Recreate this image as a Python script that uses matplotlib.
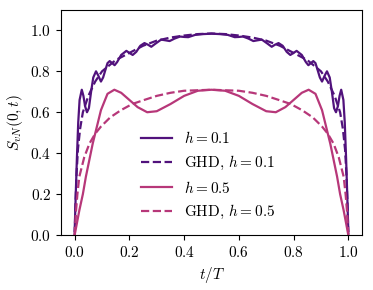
import numpy as np
import matplotlib.pyplot as plt
from matplotlib import cm

plt.rcParams['font.family'] = 'serif'
plt.rcParams['font.serif'] = ['cmr10', 'DejaVu Serif']
plt.rcParams['mathtext.fontset'] = 'cm'
plt.rcParams['axes.formatter.use_mathtext'] = True
plt.rcParams['font.size'] = 11

# ============================
# data
# ============================
t_h01 = [0.0, 0.004, 0.008, 0.013, 0.018, 0.026, 0.032, 0.038, 0.045, 0.052,
         0.06, 0.068, 0.078, 0.086, 0.096, 0.104, 0.113, 0.12, 0.128, 0.137,
         0.146, 0.155, 0.17, 0.189, 0.2, 0.212, 0.225, 0.24, 0.255, 0.268,
         0.28, 0.295, 0.316, 0.33, 0.347, 0.365, 0.385, 0.4, 0.415, 0.44,
         0.47, 0.5,
         0.53, 0.56, 0.585, 0.6, 0.615, 0.635, 0.653, 0.67, 0.684, 0.705,
         0.72, 0.732, 0.745, 0.76, 0.775, 0.788, 0.8, 0.811, 0.83, 0.845,
         0.854, 0.863, 0.872, 0.88, 0.887, 0.896, 0.904, 0.914, 0.922, 0.932,
         0.94, 0.948, 0.955, 0.962, 0.968, 0.974, 0.982, 0.987, 0.992, 0.996,
         1.0]
s_h01 = [0.02, 0.2, 0.37, 0.55, 0.66, 0.71, 0.68, 0.63, 0.60, 0.62,
         0.70, 0.77, 0.80, 0.78, 0.75, 0.77, 0.81, 0.84, 0.85, 0.84,
         0.83, 0.845, 0.88, 0.90, 0.89, 0.88, 0.895, 0.925, 0.938, 0.93,
         0.92, 0.935, 0.955, 0.952, 0.948, 0.96, 0.97, 0.968, 0.967, 0.978,
         0.982, 0.984,
         0.982, 0.978, 0.967, 0.968, 0.97, 0.96, 0.948, 0.952, 0.955, 0.935,
         0.92, 0.93, 0.938, 0.925, 0.895, 0.88, 0.89, 0.90, 0.88, 0.845,
         0.83, 0.84, 0.85, 0.84, 0.81, 0.77, 0.75, 0.78, 0.80, 0.77,
         0.70, 0.62, 0.60, 0.63, 0.68, 0.71, 0.66, 0.55, 0.37, 0.2,
         0.02]

t_ghd01 = [0.0, 0.003, 0.007, 0.012, 0.02, 0.03, 0.05, 0.075, 0.1, 0.15,
           0.2, 0.25, 0.3, 0.35, 0.4, 0.45, 0.5, 0.55, 0.6, 0.65,
           0.7, 0.75, 0.8, 0.85, 0.9, 0.925, 0.95, 0.97, 0.98, 0.988,
           0.993, 0.997, 1.0]
s_ghd01 = [0.0, 0.15, 0.3, 0.42, 0.52, 0.6, 0.68, 0.75, 0.80, 0.855,
           0.89, 0.925, 0.95, 0.965, 0.975, 0.982, 0.985, 0.982, 0.975, 0.965,
           0.95, 0.925, 0.89, 0.855, 0.80, 0.75, 0.68, 0.6, 0.52, 0.42,
           0.3, 0.15, 0.0]

t_h05 = [0.0, 0.017, 0.03, 0.041, 0.066, 0.096, 0.12, 0.145, 0.17, 0.2,
         0.23, 0.265, 0.3, 0.35, 0.4, 0.45, 0.5, 0.55, 0.6, 0.65,
         0.7, 0.735, 0.77, 0.8, 0.83, 0.855, 0.88, 0.904, 0.934, 0.959,
         0.97, 0.983, 1.0]
s_h05 = [0.0, 0.12, 0.2, 0.285, 0.447, 0.61, 0.69, 0.71, 0.695, 0.66,
         0.625, 0.60, 0.605, 0.64, 0.68, 0.705, 0.71, 0.705, 0.68, 0.64,
         0.605, 0.60, 0.625, 0.66, 0.695, 0.71, 0.69, 0.61, 0.447, 0.285,
         0.2, 0.12, 0.0]

t_ghd05 = [0.0, 0.005, 0.01, 0.017, 0.035, 0.054, 0.075, 0.096, 0.13, 0.169,
           0.21, 0.254, 0.3, 0.35, 0.4, 0.5, 0.6, 0.65, 0.7, 0.746,
           0.79, 0.831, 0.87, 0.904, 0.925, 0.946, 0.965, 0.983, 0.99, 0.995,
           1.0]
s_ghd05 = [0.0, 0.12, 0.2, 0.285, 0.38, 0.447, 0.495, 0.53, 0.575, 0.61,
           0.64, 0.66, 0.68, 0.695, 0.705, 0.71, 0.705, 0.695, 0.68, 0.66,
           0.64, 0.61, 0.575, 0.53, 0.495, 0.447, 0.38, 0.285, 0.2, 0.12,
           0.0]

# ============================
# plot
# ============================
c1 = cm.magma(0.25)
c2 = cm.magma(0.5)

fig = plt.figure(figsize=(3.73, 2.9), dpi=100)
ax = fig.add_axes([0.1635, 0.1897, 0.807, 0.776])

ax.plot(t_h01, s_h01, '-', color=c1, lw=1.6, label=r'$h=0.1$')
ax.plot(t_ghd01, s_ghd01, '--', color=c1, lw=1.6, label=r'GHD, $h=0.1$')
ax.plot(t_h05, s_h05, '-', color=c2, lw=1.6, label=r'$h=0.5$')
ax.plot(t_ghd05, s_ghd05, '--', color=c2, lw=1.6, label=r'GHD, $h=0.5$')

ax.set_xlim(-0.05, 1.05)
ax.set_ylim(0.0, 1.1)
ax.set_xticks(np.arange(0, 1.01, 0.2))
ax.set_yticks(np.arange(0, 1.01, 0.2))
ax.set_xlabel(r'$t/T$')
ax.set_ylabel(r'$S_{vN}(0,t)$')

ax.legend(frameon=False, loc='lower center', bbox_to_anchor=(0.49, 0.0),
          handlelength=2.0, labelspacing=0.5)

fig.savefig('out.png', dpi=100)
